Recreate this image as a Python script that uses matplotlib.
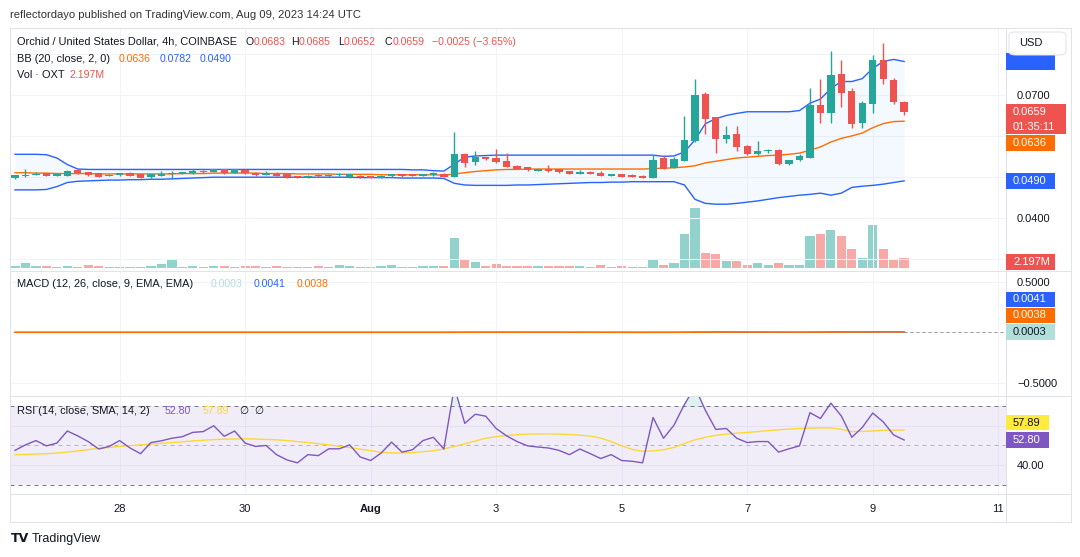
import matplotlib
matplotlib.use('Agg')
import matplotlib.pyplot as plt
from matplotlib.patches import Rectangle, FancyBboxPatch
from matplotlib.lines import Line2D

plt.rcParams['font.family'] = ['Liberation Sans', 'DejaVu Sans']

# ---------------- data ----------------
time_ticks = [10, 22, 34, 46, 58, 70, 82, 94]
time_labels = ['28', '30', 'Aug', '3', '5', '7', '9', '11']

opens = [0.0496, 0.0502, 0.0505, 0.0509, 0.0502, 0.0502, 0.0517, 0.0511, 0.0509, 0.0503,
         0.0504, 0.0509, 0.0507, 0.0499, 0.0502, 0.0507, 0.0507, 0.0509, 0.0513, 0.0512,
         0.0518, 0.0510, 0.0517, 0.0509, 0.0505, 0.0508, 0.0507, 0.0500, 0.0499, 0.0505,
         0.0501, 0.0504, 0.0499, 0.0503, 0.0502, 0.0497, 0.0501, 0.0507, 0.0506, 0.0502,
         0.0504, 0.0508, 0.0500, 0.0556, 0.0535, 0.0548, 0.0546, 0.0539, 0.0526, 0.0524,
         0.0515, 0.0519, 0.0518, 0.0513, 0.0508, 0.0512, 0.0509, 0.0503, 0.0507, 0.0504,
         0.0502, 0.0498, 0.0546, 0.0522, 0.0539, 0.0588, 0.0702, 0.0645, 0.0592, 0.0605,
         0.0575, 0.0556, 0.0562, 0.0566, 0.0531, 0.0540, 0.0547, 0.0676, 0.0657, 0.0751,
         0.0710, 0.0631, 0.0677, 0.0786, 0.0737, 0.0683]
highs = [0.0505, 0.0518, 0.0511, 0.0510, 0.0508, 0.0517, 0.0518, 0.0512, 0.0510, 0.0507,
         0.0510, 0.0511, 0.0508, 0.0508, 0.0514, 0.0514, 0.0512, 0.0518, 0.0517, 0.0519,
         0.0519, 0.0519, 0.0518, 0.0511, 0.0513, 0.0511, 0.0508, 0.0502, 0.0504, 0.0506,
         0.0507, 0.0510, 0.0508, 0.0505, 0.0503, 0.0505, 0.0508, 0.0508, 0.0507, 0.0507,
         0.0511, 0.0509, 0.0610, 0.0559, 0.0563, 0.0549, 0.0568, 0.0558, 0.0528, 0.0525,
         0.0519, 0.0529, 0.0519, 0.0515, 0.0517, 0.0513, 0.0514, 0.0508, 0.0508, 0.0507,
         0.0504, 0.0553, 0.0553, 0.0549, 0.0649, 0.0739, 0.0707, 0.0647, 0.0624, 0.0624,
         0.0577, 0.0588, 0.0567, 0.0567, 0.0542, 0.0555, 0.0716, 0.0739, 0.0808, 0.0786,
         0.0718, 0.0685, 0.0798, 0.0828, 0.0741, 0.0685]
lows = [0.0495, 0.0500, 0.0504, 0.0501, 0.0501, 0.0501, 0.0508, 0.0503, 0.0499, 0.0502,
        0.0503, 0.0501, 0.0497, 0.0498, 0.0501, 0.0494, 0.0506, 0.0508, 0.0510, 0.0511,
        0.0508, 0.0509, 0.0508, 0.0503, 0.0504, 0.0501, 0.0498, 0.0497, 0.0498, 0.0500,
        0.0500, 0.0502, 0.0498, 0.0498, 0.0496, 0.0496, 0.0500, 0.0500, 0.0501, 0.0501,
        0.0503, 0.0499, 0.0499, 0.0525, 0.0529, 0.0540, 0.0534, 0.0524, 0.0518, 0.0514,
        0.0514, 0.0512, 0.0510, 0.0507, 0.0506, 0.0507, 0.0502, 0.0502, 0.0499, 0.0499,
        0.0497, 0.0497, 0.0519, 0.0521, 0.0538, 0.0585, 0.0605, 0.0559, 0.0583, 0.0564,
        0.0554, 0.0553, 0.0558, 0.0529, 0.0529, 0.0539, 0.0546, 0.0632, 0.0632, 0.0671,
        0.0620, 0.0620, 0.0657, 0.0726, 0.0678, 0.0652]
closes = [0.0504, 0.0503, 0.0507, 0.0502, 0.0507, 0.0513, 0.0509, 0.0504, 0.0500, 0.0505,
          0.0509, 0.0502, 0.0498, 0.0507, 0.0507, 0.0509, 0.0511, 0.0514, 0.0511, 0.0518,
          0.0509, 0.0518, 0.0509, 0.0504, 0.0509, 0.0502, 0.0499, 0.0499, 0.0503, 0.0501,
          0.0505, 0.0505, 0.0507, 0.0499, 0.0497, 0.0503, 0.0507, 0.0501, 0.0502, 0.0506,
          0.0509, 0.0500, 0.0556, 0.0533, 0.0548, 0.0543, 0.0535, 0.0525, 0.0519, 0.0516,
          0.0518, 0.0513, 0.0511, 0.0508, 0.0512, 0.0508, 0.0503, 0.0507, 0.0500, 0.0500,
          0.0498, 0.0541, 0.0520, 0.0544, 0.0590, 0.0700, 0.0641, 0.0592, 0.0602, 0.0572,
          0.0556, 0.0563, 0.0566, 0.0531, 0.0541, 0.0551, 0.0676, 0.0657, 0.0749, 0.0706,
          0.0628, 0.0680, 0.0786, 0.0740, 0.0683, 0.0659]

volume_m = [0.43, 1.07, 0.43, 0.43, 0.21, 0.43, 0.21, 0.64, 0.43, 0.21,
            0.21, 0.21, 0.21, 0.43, 0.85, 1.92, 0.21, 0.43, 0.21, 0.43,
            0.43, 0.21, 0.43, 0.43, 0.21, 0.43, 0.21, 0.21, 0.21, 0.43,
            0.21, 0.64, 0.43, 0.21, 0.21, 0.43, 0.64, 0.21, 0.21, 0.43,
            0.43, 0.43, 6.40, 1.64, 1.22, 0.43, 0.79, 0.36, 0.36, 0.36,
            0.36, 0.36, 0.36, 0.36, 0.36, 0.15, 0.58, 0.15, 0.36, 0.15,
            0.15, 1.92, 0.68, 1.07, 7.25, 12.80, 3.20, 2.99, 1.54, 1.56,
            0.70, 1.13, 0.70, 1.13, 0.70, 0.70, 6.89, 7.32, 8.17, 6.89,
            4.12, 2.20, 9.24, 4.12, 1.98, 2.197]

bb_upper = [0.0555, 0.0555, 0.0555, 0.0554, 0.0546, 0.0530, 0.0519, 0.0518, 0.0518, 0.0518,
            0.0518, 0.0518, 0.0518, 0.0518, 0.0518, 0.0518, 0.0518, 0.0518, 0.0518, 0.0518,
            0.0518, 0.0518, 0.0518, 0.0518, 0.0518, 0.0518, 0.0518, 0.0518, 0.0518, 0.0518,
            0.0518, 0.0518, 0.0518, 0.0518, 0.0518, 0.0518, 0.0518, 0.0518, 0.0517, 0.0517,
            0.0515, 0.0514, 0.0531, 0.0548, 0.0551, 0.0552, 0.0553, 0.0553, 0.0553, 0.0553,
            0.0553, 0.0553, 0.0553, 0.0553, 0.0553, 0.0553, 0.0553, 0.0553, 0.0553, 0.0553,
            0.0553, 0.0553, 0.0550, 0.0551, 0.0561, 0.0590, 0.0630, 0.0642, 0.0650, 0.0655,
            0.0659, 0.0659, 0.0659, 0.0659, 0.0659, 0.0662, 0.0680, 0.0690, 0.0716, 0.0733,
            0.0733, 0.0740, 0.0765, 0.0782, 0.0787, 0.0782]
bb_basis = [0.0510, 0.0510, 0.0509, 0.0509, 0.0508, 0.0508, 0.0508, 0.0508, 0.0507, 0.0507,
            0.0507, 0.0507, 0.0507, 0.0507, 0.0507, 0.0507, 0.0508, 0.0508, 0.0508, 0.0509,
            0.0509, 0.0509, 0.0509, 0.0509, 0.0508, 0.0508, 0.0508, 0.0507, 0.0507, 0.0507,
            0.0507, 0.0506, 0.0506, 0.0506, 0.0506, 0.0505, 0.0505, 0.0505, 0.0505, 0.0505,
            0.0505, 0.0504, 0.0507, 0.0510, 0.0513, 0.0515, 0.0517, 0.0518, 0.0518, 0.0519,
            0.0519, 0.0519, 0.0519, 0.0519, 0.0519, 0.0519, 0.0519, 0.0519, 0.0519, 0.0519,
            0.0519, 0.0520, 0.0521, 0.0522, 0.0524, 0.0527, 0.0534, 0.0538, 0.0542, 0.0546,
            0.0548, 0.0550, 0.0552, 0.0553, 0.0555, 0.0558, 0.0565, 0.0573, 0.0585, 0.0594,
            0.0600, 0.0607, 0.0620, 0.0630, 0.0635, 0.0636]
bb_lower = [0.0468, 0.0468, 0.0468, 0.0469, 0.0476, 0.0486, 0.0489, 0.0490, 0.0491, 0.0492,
            0.0492, 0.0493, 0.0493, 0.0494, 0.0494, 0.0495, 0.0496, 0.0497, 0.0498, 0.0499,
            0.0499, 0.0499, 0.0499, 0.0499, 0.0499, 0.0499, 0.0499, 0.0499, 0.0499, 0.0499,
            0.0499, 0.0499, 0.0499, 0.0498, 0.0498, 0.0498, 0.0498, 0.0497, 0.0497, 0.0497,
            0.0497, 0.0496, 0.0484, 0.0480, 0.0479, 0.0479, 0.0479, 0.0479, 0.0480, 0.0480,
            0.0481, 0.0482, 0.0483, 0.0484, 0.0485, 0.0486, 0.0486, 0.0487, 0.0487, 0.0488,
            0.0488, 0.0488, 0.0488, 0.0488, 0.0480, 0.0445, 0.0435, 0.0433, 0.0433, 0.0435,
            0.0438, 0.0441, 0.0445, 0.0449, 0.0452, 0.0455, 0.0457, 0.0460, 0.0455, 0.0460,
            0.0474, 0.0477, 0.0479, 0.0482, 0.0486, 0.0490]

macd_line = [0.0000] * 42 + [
    0.0004, 0.0006, 0.0009, 0.0010, 0.0011, 0.0010, 0.0009, 0.0008,
    0.0007, 0.0006, 0.0005, 0.0004, 0.0003, 0.0002, 0.0001, 0.0000, -0.0001, -0.0002,
    -0.0003, 0.0000, 0.0001, 0.0003, 0.0008, 0.0020, 0.0026, 0.0027, 0.0028, 0.0026,
    0.0022, 0.0019, 0.0016, 0.0011, 0.0008, 0.0007, 0.0016, 0.0022, 0.0032, 0.0036,
    0.0033, 0.0034, 0.0042, 0.0045, 0.0044, 0.0041]
macd_signal = [0.0000] * 42 + [
    0.0001, 0.0002, 0.0003, 0.0004, 0.0005, 0.0006, 0.0007, 0.0007,
    0.0007, 0.0007, 0.0007, 0.0006, 0.0006, 0.0005, 0.0004, 0.0004, 0.0003, 0.0002,
    0.0001, 0.0001, 0.0001, 0.0001, 0.0003, 0.0006, 0.0010, 0.0013, 0.0016, 0.0018,
    0.0019, 0.0019, 0.0018, 0.0017, 0.0015, 0.0014, 0.0014, 0.0016, 0.0019, 0.0022,
    0.0024, 0.0026, 0.0029, 0.0032, 0.0036, 0.0038]

rsi = [47.5, 50.3, 52.5, 49.8, 51.2, 57.4, 54.9, 52.0, 48.2, 49.5,
       52.5, 48.7, 45.8, 51.5, 52.4, 53.7, 54.5, 56.7, 57.1, 60.1,
       54.7, 57.4, 51.2, 49.5, 50.0, 45.3, 42.6, 41.1, 45.3, 44.8,
       48.3, 48.3, 50.3, 44.1, 42.3, 46.1, 51.7, 46.6, 47.8, 52.5,
       54.2, 48.2, 80.0, 61.3, 66.0, 65.0, 58.7, 54.9, 52.0, 49.8,
       49.2, 48.7, 47.5, 45.3, 48.2, 45.8, 43.3, 45.3, 42.3, 41.9,
       41.1, 64.3, 53.7, 60.4, 71.0, 80.0, 68.0, 58.2, 58.7, 53.7,
       51.5, 52.0, 52.0, 46.6, 48.3, 49.8, 66.8, 63.8, 71.7, 65.1,
       54.2, 59.2, 66.6, 62.1, 55.4, 52.8]
rsi_ma = [45.3, 45.4, 45.6, 45.8, 46.1, 46.6, 47.2, 47.9, 48.5, 49.0,
          49.5, 49.9, 50.3, 50.7, 51.1, 51.5, 51.9, 52.3, 52.7, 53.0,
          53.2, 53.3, 53.4, 53.3, 53.1, 52.9, 52.5, 52.0, 51.5, 50.9,
          50.3, 49.6, 48.9, 48.1, 47.3, 46.5, 46.2, 46.1, 46.4, 46.8,
          47.3, 48.2, 49.5, 50.8, 52.3, 53.7, 54.5, 55.1, 55.5, 55.8,
          55.9, 55.9, 55.8, 55.6, 55.3, 54.8, 53.8, 52.0, 49.8, 48.0,
          47.0, 47.2, 47.8, 49.0, 51.0, 52.9, 54.2, 55.2, 55.8, 56.3,
          56.7, 57.1, 57.6, 58.0, 58.4, 58.7, 58.9, 59.0, 59.0, 58.3,
          57.1, 57.2, 57.4, 57.8, 57.9, 57.89]

# ---------------- styling ----------------
W, H = 1080, 557
UP, DN = '#26a69a', '#ef5350'
UPV, DNV = '#92d2cc', '#f7a9a7'
BLUE, ORANGE = '#2962ff', '#ff6d00'
PURPLE, YELLOW = '#7e57c2', '#fdd835'
TXT = '#131722'
GRID = '#f0f3fa'
BORDER = '#e0e3eb'
PX = 0.72  # 1 pixel in points

fig = plt.figure(figsize=(W / 100, H / 100), dpi=100)
fig.patch.set_facecolor('white')
renderer = fig.canvas.get_renderer()


def ax_at(x0, y0, x1, y1, z=1):
    a = fig.add_axes([x0 / W, 1 - y1 / H, (x1 - x0) / W, (y1 - y0) / H], zorder=z)
    for s in a.spines.values():
        s.set_visible(False)
    a.patch.set_alpha(0)
    return a


def ptext(x, y, s, **kw):
    kw.setdefault('va', 'center')
    kw.setdefault('ha', 'left')
    kw.setdefault('fontsize', 8)
    kw.setdefault('color', TXT)
    return fig.text(x / W, 1 - y / H, s, **kw)


def seq(x, y, parts, size=7.6, gap=0.0):
    """Place text pieces one after another starting at pixel x."""
    for s, col in parts:
        t = ptext(x, y, s, color=col, fontsize=size)
        bb = t.get_window_extent(renderer=renderer)
        x = bb.x1 + gap


def prect(x0, y0, x1, y1, fc, z=5):
    fig.add_artist(Rectangle((x0 / W, 1 - y1 / H), (x1 - x0) / W, (y1 - y0) / H,
                             transform=fig.transFigure, fc=fc, ec='none', zorder=z))


def pline(x0, y0, x1, y1, color=BORDER, lw=PX, z=3):
    fig.add_artist(Line2D([x0 / W, x1 / W], [1 - y0 / H, 1 - y1 / H],
                          transform=fig.transFigure, color=color, lw=lw, zorder=z))


X0, X1 = 10, 1006
XLIM = ((X0 - 15) / 10.46, (X1 - 15) / 10.46)
idx = list(range(len(closes)))

ax_v = ax_at(X0, 28, X1, 270, z=0)
ax_p = ax_at(X0, 28, X1, 270, z=1)
ax_m = ax_at(X0, 271, X1, 395)
ax_r = ax_at(X0, 396, X1, 494)

for a in (ax_v, ax_p, ax_m, ax_r):
    a.set_xlim(*XLIM)
    a.tick_params(length=0)
    a.set_yticks([])
    a.set_xticks([])
    for t in time_ticks:
        a.axvline(t, color=GRID, lw=PX, zorder=0)

# ---- volume ----
vk = 0.2133
ax_v.set_ylim(-2 * vk, 240 * vk)
vcols = [UPV if c >= o else DNV for o, c in zip(opens, closes)]
ax_v.bar(idx, volume_m, width=0.88, color=vcols, zorder=2)

# ---- price ----
ax_p.set_ylim(0.07 - 175 / 4090, 0.07 + 67 / 4090)
for g in [0.03, 0.04, 0.05, 0.06, 0.07, 0.08]:
    ax_p.axhline(g, color=GRID, lw=PX, zorder=0)
ax_p.fill_between(idx, bb_lower, bb_upper, color='#2196f3', alpha=0.05, lw=0, zorder=1)
ax_p.plot(idx, bb_upper, color=BLUE, lw=1.0, zorder=2)
ax_p.plot(idx, bb_lower, color=BLUE, lw=1.0, zorder=2)
ax_p.plot(idx, bb_basis, color=ORANGE, lw=1.0, zorder=2)
for i, (o, h, l, c) in enumerate(zip(opens, highs, lows, closes)):
    col = UP if c >= o else DN
    ax_p.vlines(i, l, h, color=col, lw=1.0, zorder=3)
    ax_p.bar(i, max(abs(c - o), 0.00022), bottom=min(o, c), width=0.7, color=col, zorder=4)
ax_p.yaxis.tick_right()
ax_p.set_yticks([0.04, 0.07])
ax_p.set_yticklabels(['0.0400', '0.0700'])
ax_p.tick_params(axis='y', length=0, pad=8, labelsize=8, labelcolor=TXT)

# ---- MACD ----
ax_m.set_ylim(-0.5 - 12 / 101.3, 0.5 + 10.7 / 101.3)
for g in [0.5, 0.0, -0.5]:
    ax_m.axhline(g, color=GRID, lw=PX, zorder=0)
hist = [m - s for m, s in zip(macd_line, macd_signal)]
ax_m.bar(idx, hist, width=0.6, color=['#26a69a' if v >= 0 else '#ff5252' for v in hist], zorder=1)
ax_m.plot(idx, macd_line, color=BLUE, lw=1.0, zorder=2)
ax_m.plot(idx, macd_signal, color=ORANGE, lw=1.0, zorder=3)
ax_m.plot([idx[-1], XLIM[1]], [hist[-1], hist[-1]], color='#9598a1', lw=PX, ls=(0, (3, 3)), zorder=2)
ax_m.yaxis.tick_right()
ax_m.set_yticks([0.5, -0.5])
ax_m.set_yticklabels(['0.5000', '\u22120.5000'])
ax_m.tick_params(axis='y', length=0, pad=8, labelsize=8, labelcolor=TXT)

# ---- RSI ----
ax_r.set_ylim(40 - 29 / 1.953, 40 + 69 / 1.953)
ax_r.axhspan(30, 70, color=PURPLE, alpha=0.1, lw=0, zorder=0)
for g in [60, 40]:
    ax_r.axhline(g, color='#e6e1f2', lw=PX, zorder=0.5)
ax_r.axhline(70, color='#787b86', lw=PX, ls=(0, (4, 4)), zorder=1)
ax_r.axhline(30, color='#787b86', lw=PX, ls=(0, (4, 4)), zorder=1)
ax_r.axhline(50, color='#787b86', lw=PX, ls=(0, (4, 4)), alpha=0.5, zorder=1)
ax_r.fill_between(idx, 70, rsi, where=[v > 70 for v in rsi], interpolate=True,
                  color='#26a69a', alpha=0.15, lw=0, zorder=1)
ax_r.plot(idx, rsi_ma, color=YELLOW, lw=1.0, zorder=2)
ax_r.plot(idx, rsi, color=PURPLE, lw=1.0, zorder=3)
ax_r.yaxis.tick_right()
ax_r.set_yticks([40])
ax_r.set_yticklabels(['40.00'])
ax_r.tick_params(axis='y', length=0, pad=8, labelsize=8, labelcolor=TXT)
ax_r.set_xticks(time_ticks)
ax_r.set_xticklabels(time_labels)
ax_r.tick_params(axis='x', length=0, pad=7, labelsize=8, labelcolor=TXT)
for t in ax_r.get_xticklabels():
    if t.get_text() == 'Aug':
        t.set_fontweight('bold')

# ---- frame / separators ----
pline(10, 27.5, 1071, 27.5)
pline(10, 521.5, 1071, 521.5)
pline(10, 27.5, 10, 521.5)
pline(1071, 27.5, 1071, 521.5)
pline(1006, 27.5, 1006, 521.5)
pline(10, 270.5, 1071, 270.5)
pline(10, 395.5, 1071, 395.5)
pline(10, 494, 1071, 494)

# ---- right side value labels ----
prect(1006, 53, 1055, 70, BLUE)
ptext(1013, 61.5, '0.0782', color='white')
fig.add_artist(FancyBboxPatch((1009 / W, 1 - 55 / H), 57 / W, 23 / H,
                              boxstyle='round,pad=0,rounding_size=0.006',
                              transform=fig.transFigure, fc='white', ec=BORDER, lw=PX, zorder=6))
ptext(1019, 43, 'USD', zorder=7)
prect(1006, 104, 1066, 134, DN)
ptext(1013, 112, '0.0659', color='white', zorder=6)
ptext(1013, 127, '01:35:11', color='white', zorder=6)
prect(1006, 135, 1055, 151, ORANGE)
ptext(1013, 143, '0.0636', color='white', zorder=6)
prect(1006, 173, 1055, 189, BLUE)
ptext(1013, 181, '0.0490', color='white', zorder=6)
prect(1006, 254, 1055, 270, DN)
ptext(1013, 262, '2.197M', color='white', zorder=6)

prect(1006, 292, 1055, 307, BLUE)
ptext(1013, 299.5, '0.0041', color='white', zorder=6)
prect(1006, 308, 1055, 323, ORANGE)
ptext(1013, 315.5, '0.0038', color='white', zorder=6)
prect(1006, 324, 1055, 340, '#b2dfdb')
ptext(1013, 332, '0.0003', color=TXT, zorder=6)

prect(1006, 415, 1049, 430, '#ffeb3b')
ptext(1013, 422.5, '57.89', color=TXT, zorder=6)
prect(1006, 432, 1049, 448, PURPLE)
ptext(1013, 440, '52.80', color='white', zorder=6)

# ---- legends / header ----
ptext(10, 15, 'reflectordayo published on TradingView.com, Aug 09, 2023 14:24 UTC', fontsize=8.1, color='#333333')
seq(17, 42, [('Orchid / United States Dollar, 4h, COINBASE', TXT)], size=7.9)
seq(246, 42, [('O', TXT), ('0.0683', DN)])
seq(291, 42, [('H', TXT), ('0.0685', DN)])
seq(338, 42, [('L', TXT), ('0.0652', DN)])
seq(385, 42, [('C', TXT), ('0.0659', DN)])
seq(432, 42, [('\u22120.0025 (\u22123.65%)', DN)])
seq(17, 59, [('BB (20, close, 2, 0)', TXT)], size=7.9)
seq(119, 59, [('0.0636', ORANGE)])
seq(160, 59, [('0.0782', BLUE)])
seq(200, 59, [('0.0490', BLUE)])
seq(17, 75, [('Vol \u00b7 OXT', TXT)], size=7.9)
seq(70, 75, [('2.197M', DN)])

seq(17, 284, [('MACD (12, 26, close, 9, EMA, EMA)', TXT)], size=7.9)
seq(211, 284, [('0.0003', '#b2dfdb')])
seq(254, 284, [('0.0041', BLUE)])
seq(297, 284, [('0.0038', ORANGE)])

seq(17, 411, [('RSI (14, close, SMA, 14, 2)', TXT)], size=7.9)
seq(165, 411, [('52.80', PURPLE)])
seq(203, 411, [('57.89', YELLOW)])
seq(239, 411, [('\u2205', TXT)])
seq(254, 411, [('\u2205', TXT)])

# ---- footer ----
ptext(11, 539, 'TV', fontsize=9, fontweight='bold', color=TXT, family='DejaVu Sans')
ptext(32, 539, 'TradingView', fontsize=9, color=TXT)

fig.savefig('out.png', dpi=100, facecolor='white')
